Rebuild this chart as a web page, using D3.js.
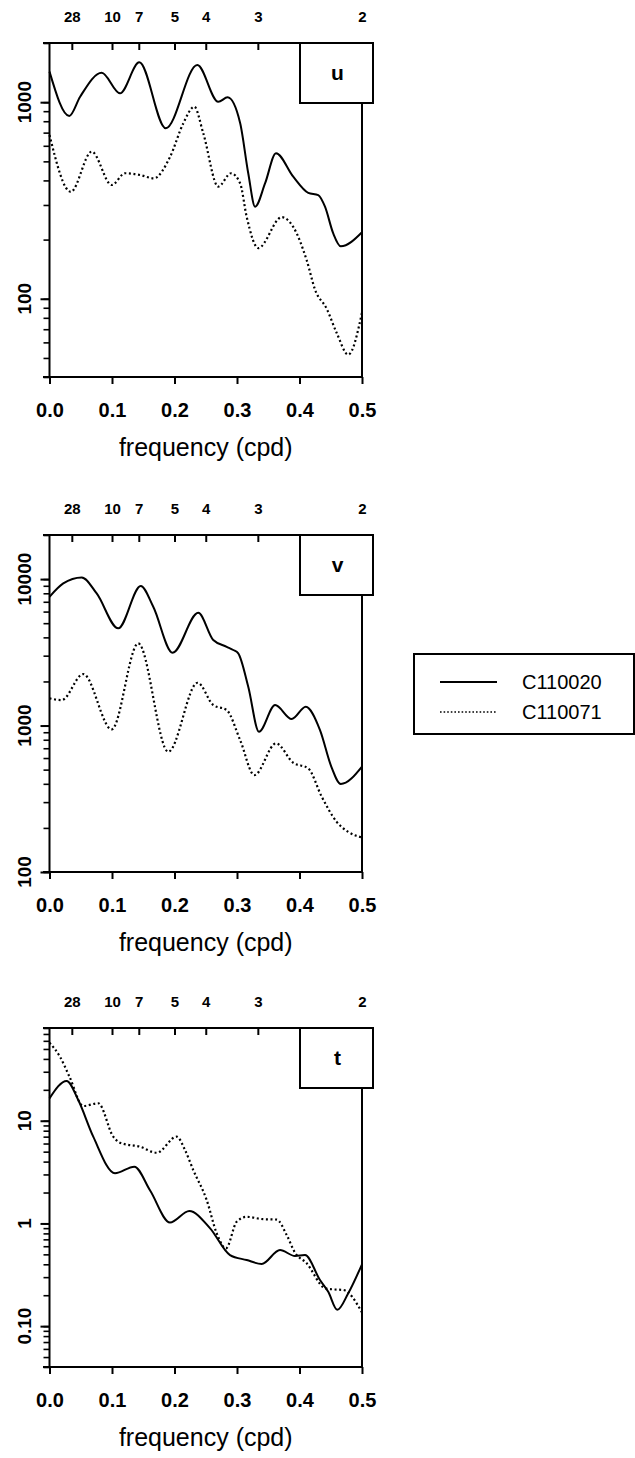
<!DOCTYPE html>
<html>
<head>
<meta charset="utf-8">
<script src="https://cdn.jsdelivr.net/npm/d3@7"></script>
<style>
  html, body { margin: 0; padding: 0; background: #fff; }
  svg { display: block; font-family: "Liberation Sans", Arial, Helvetica, sans-serif; }
</style>
</head>
<body>
<svg id="chart" width="635" height="1458"></svg>
<script>
// Spectra of three variables (u, v, t) at two moorings, plotted against frequency.
const seriesNames = ["C110020", "C110071"];
const panelNames = ["u", "v", "t"];

// Bottom axis ticks (cycles per day) and top axis period labels (days).
const freqTicks = [0, 0.1, 0.2, 0.3, 0.4, 0.5];
const periodTicks = [28, 10, 7, 5, 4, 3, 2];

// Spectral estimates, [frequency (cpd), power].
const u_C110020 = [
  [0.000, 1430], [0.0317, 851], [0.049, 1066], [0.0835, 1412], [0.1128, 1110],
  [0.1437, 1595], [0.186, 736], [0.2365, 1546], [0.270, 1005], [0.285, 1058],
  [0.305, 784], [0.318, 435], [0.329, 294], [0.345, 387], [0.3624, 550],
  [0.390, 418], [0.414, 346], [0.430, 337], [0.4408, 294], [0.454, 215],
  [0.466, 185], [0.500, 218]
];
const u_C110071 = [
  [0.000, 681], [0.034, 350], [0.0675, 560], [0.0995, 379], [0.121, 435],
  [0.145, 426], [0.167, 410], [0.193, 528], [0.214, 780], [0.2317, 948],
  [0.246, 695], [0.270, 372], [0.2904, 435], [0.305, 387], [0.3155, 261],
  [0.334, 181], [0.3715, 260], [0.390, 232], [0.4115, 157], [0.425, 111],
  [0.4435, 89], [0.4595, 67], [0.478, 52], [0.500, 85]
];
const v_C110020 = [
  [0.000, 7570], [0.022, 9350], [0.0515, 10270], [0.0755, 7980], [0.110, 4610],
  [0.146, 8960], [0.166, 6470], [0.197, 3140], [0.238, 5890], [0.262, 3835],
  [0.2835, 3450], [0.294, 3280], [0.302, 3110], [0.318, 1840], [0.3352, 907],
  [0.361, 1380], [0.3875, 1108], [0.410, 1343], [0.4328, 932], [0.451, 523],
  [0.466, 399], [0.500, 525]
];
const v_C110071 = [
  [0.000, 1533], [0.0195, 1493], [0.054, 2246], [0.0995, 942], [0.142, 3640],
  [0.190, 663], [0.237, 1960], [0.262, 1380], [0.2835, 1276], [0.305, 796],
  [0.3278, 459], [0.3624, 755], [0.390, 557], [0.414, 510], [0.4355, 327],
  [0.4595, 220], [0.478, 188], [0.500, 172]
];
const t_C110020 = [
  [0.000, 16.5], [0.0275, 24.4], [0.046, 15.9], [0.070, 7.0], [0.1048, 3.08],
  [0.1357, 3.57], [0.161, 2.09], [0.1928, 1.02], [0.2237, 1.32], [0.257, 0.896],
  [0.2888, 0.492], [0.3155, 0.44], [0.3395, 0.403], [0.3688, 0.551], [0.3928, 0.482],
  [0.4088, 0.492], [0.4328, 0.281], [0.446, 0.216], [0.4605, 0.144], [0.478, 0.209],
  [0.500, 0.40]
];
const t_C110071 = [
  [0.000, 57.5], [0.0168, 42], [0.032, 26.8], [0.054, 13.9], [0.078, 14.8],
  [0.102, 7.0], [0.1128, 6.11], [0.1448, 5.58], [0.1715, 4.88], [0.2035, 7.0],
  [0.2168, 5.19], [0.230, 3.31], [0.2515, 1.69], [0.2675, 0.802], [0.2824, 0.573],
  [0.2995, 1.04], [0.3155, 1.16], [0.342, 1.10], [0.3635, 1.09], [0.3795, 0.771],
  [0.3928, 0.519], [0.4115, 0.409], [0.4408, 0.234], [0.454, 0.228], [0.470, 0.225],
  [0.500, 0.136]
];

// Power ranges and labelled decades for each panel.
const yDomains = [[40, 2000], [100, 20000], [0.04, 80]];
const yMajors = [[100, 1000], [100, 1000, 10000], [0.1, 1, 10]];
const yMajorLabels = [["100", "1000"], ["100", "1000", "10000"], ["0.10", "1", "10"]];
const panelData = [[u_C110020, u_C110071], [v_C110020, v_C110071], [t_C110020, t_C110071]];

// Layout
const plotLeft = 49.5, plotRight = 362;
const panelTops = [43, 535, 1028];
const panelBottoms = [377, 872, 1367];
const tagBox = { x0: 300, x1: 373, h: 60 };
const dashStyles = [null, "2,2.6"];

const svg = d3.select("#chart");
const x = d3.scaleLinear().domain([0, 0.5]).range([plotLeft, plotRight]);

function minorValues(domain) {
  const out = [];
  const lo = Math.floor(Math.log10(domain[0])), hi = Math.ceil(Math.log10(domain[1]));
  for (let d = lo; d <= hi; d++) {
    for (let m = 1; m <= 9; m++) {
      const v = m * Math.pow(10, d);
      if (v >= domain[0] * 0.999 && v <= domain[1] * 1.001) out.push(v);
    }
  }
  return out;
}

panelNames.forEach((name, i) => {
  const top = panelTops[i], bottom = panelBottoms[i];
  const y = d3.scaleLog().domain(yDomains[i]).range([bottom, top]);
  const g = svg.append("g");

  // Bottom axis: frequency
  const bx = g.append("g").attr("transform", `translate(0,${bottom})`)
    .call(d3.axisBottom(x).tickValues(freqTicks).tickSize(7).tickPadding(19)
      .tickFormat(d3.format(".1f")));
  bx.select(".domain").remove();
  bx.selectAll(".tick line").attr("stroke", "#000").attr("stroke-width", 2);
  bx.selectAll(".tick text").attr("fill", "#000").attr("font-size", 20)
    .attr("font-weight", "bold");

  // Top axis: period in days, ticks pointing inward
  const tx = g.append("g").attr("transform", `translate(0,${top})`)
    .call(d3.axisTop(x).tickValues(periodTicks.map(p => 1 / p)).tickSize(-7).tickPadding(21)
      .tickFormat((d, k) => periodTicks[k]));
  tx.select(".domain").remove();
  tx.selectAll(".tick line").attr("stroke", "#000").attr("stroke-width", 2);
  tx.selectAll(".tick text").attr("fill", "#000").attr("font-size", 15)
    .attr("font-weight", "bold");

  // Left axis: log power, minor and major ticks
  const lyMinor = g.append("g").attr("transform", `translate(${plotLeft},0)`)
    .call(d3.axisLeft(y).tickValues(minorValues(yDomains[i])).tickSize(6).tickFormat(""));
  lyMinor.select(".domain").remove();
  lyMinor.selectAll(".tick line").attr("stroke", "#000").attr("stroke-width", 1.6);
  const lyMajor = g.append("g").attr("transform", `translate(${plotLeft},0)`)
    .call(d3.axisLeft(y).tickValues(yMajors[i]).tickSize(9).tickFormat(""));
  lyMajor.select(".domain").remove();
  lyMajor.selectAll(".tick line").attr("stroke", "#000").attr("stroke-width", 2);

  // Rotated decade labels
  g.selectAll("text.ylab").data(yMajors[i]).enter().append("text")
    .attr("class", "ylab")
    .attr("transform", d => `translate(31,${y(d)}) rotate(-90)`)
    .attr("text-anchor", "middle")
    .attr("font-size", 19).attr("font-weight", "bold").attr("fill", "#000")
    .text((d, k) => yMajorLabels[i][k]);

  // Curves
  const line = d3.line().x(d => x(d[0])).y(d => y(d[1])).curve(d3.curveMonotoneX);
  panelData[i].forEach((series, s) => {
    const p = g.append("path").datum(series)
      .attr("d", line).attr("fill", "none").attr("stroke", "#000")
      .attr("stroke-width", 2).attr("stroke-linejoin", "round");
    if (dashStyles[s]) p.attr("stroke-dasharray", dashStyles[s]).attr("stroke-width", 2.2);
  });

  // Frame
  const frame = g.append("g").attr("stroke", "#000").attr("stroke-width", 2).attr("fill", "none");
  frame.append("line").attr("x1", plotLeft).attr("x2", plotLeft).attr("y1", top - 1).attr("y2", bottom + 1);
  frame.append("line").attr("x1", 43).attr("x2", tagBox.x0).attr("y1", top).attr("y2", top);
  frame.append("line").attr("x1", 43).attr("x2", plotRight + 1).attr("y1", bottom).attr("y2", bottom);
  frame.append("line").attr("x1", plotRight).attr("x2", plotRight).attr("y1", top + tagBox.h).attr("y2", bottom + 1);

  // Panel tag
  g.append("rect").attr("x", tagBox.x0).attr("y", top).attr("width", tagBox.x1 - tagBox.x0)
    .attr("height", tagBox.h).attr("fill", "#fff").attr("stroke", "#000").attr("stroke-width", 2);
  g.append("text").attr("x", (tagBox.x0 + tagBox.x1) / 2 + 1).attr("y", top + tagBox.h / 2)
    .attr("dy", "0.35em").attr("text-anchor", "middle")
    .attr("font-size", 21).attr("font-weight", "bold").attr("fill", "#000").text(name);

  // Axis title
  g.append("text").attr("x", (plotLeft + plotRight) / 2).attr("y", bottom + 79)
    .attr("text-anchor", "middle").attr("font-size", 25).attr("fill", "#000")
    .text("frequency (cpd)");
});

// Legend
const legend = svg.append("g");
legend.append("rect").attr("x", 414).attr("y", 654).attr("width", 220).attr("height", 80)
  .attr("fill", "#fff").attr("stroke", "#000").attr("stroke-width", 2);
seriesNames.forEach((n, s) => {
  const yy = 682 + s * 30;
  const ln = legend.append("line").attr("x1", 440).attr("x2", 497).attr("y1", yy).attr("y2", yy)
    .attr("stroke", "#000").attr("stroke-width", s ? 1.6 : 2.2);
  if (dashStyles[s]) ln.attr("stroke-dasharray", "1.6,2");
  legend.append("text").attr("x", 522).attr("y", yy).attr("dy", "0.36em")
    .attr("font-size", 20).attr("fill", "#000").text(n);
});
</script>
</body>
</html>
